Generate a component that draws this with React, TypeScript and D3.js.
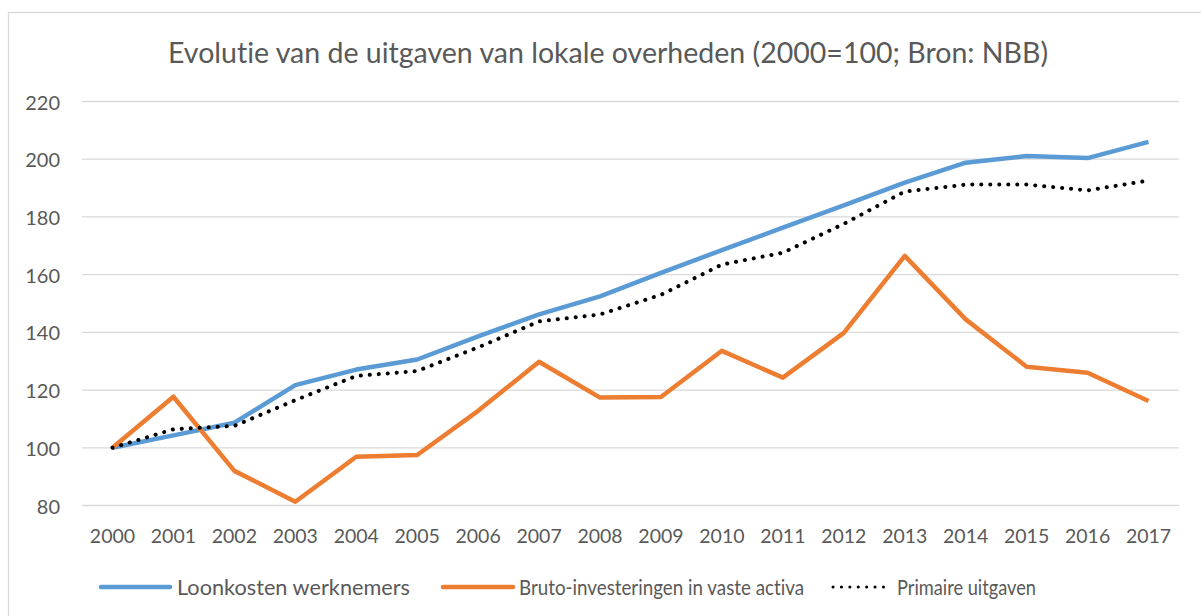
import React from "react";
import * as d3 from "d3";

const years = ["2000","2001","2002","2003","2004","2005","2006","2007","2008","2009","2010","2011","2012","2013","2014","2015","2016","2017"];
const loonkosten = [100,104.3,108.7,121.7,127.1,130.6,138.6,146.2,152.5,160.6,168.5,176.3,184.0,191.9,198.8,201.1,200.4,206.0];
const investeringen = [100,117.7,92.0,81.3,96.9,97.5,112.8,129.8,117.4,117.6,133.6,124.3,139.8,166.5,144.5,128.1,126.0,116.2];
const primaire = [100,106.4,107.6,116.5,124.9,126.6,134.8,143.8,146.2,153.0,163.5,167.6,177.6,188.8,191.2,191.2,189.2,192.6];
const yTicks = [80,100,120,140,160,180,200,220];
const title = "Evolutie van de uitgaven van lokale overheden (2000=100; Bron: NBB)";
const seriesNames = ["Loonkosten werknemers","Bruto-investeringen in vaste activa","Primaire uitgaven"];

const W = 1201, H = 616;
const FONT = "Lato, 'Open Sans', sans-serif";
const TXT = "#595959";

export default function App() {
  const x = d3.scaleBand<string>().domain(years).range([82, 1179]);
  const y = d3.scaleLinear().domain([80, 220]).range([505.5, 101.5]);
  const cx = (yr: string) => (x(yr) as number) + x.bandwidth() / 2;
  const line = (vals: number[]) =>
    d3.line<number>().x((_, i) => cx(years[i])).y(v => y(v))(vals) as string;

  const series = [
    { name: seriesNames[0], vals: loonkosten, color: "#5B9BD5", dash: undefined as string | undefined, w: 4.5, cap: "butt" },
    { name: seriesNames[1], vals: investeringen, color: "#ED7D31", dash: undefined, w: 4.5, cap: "butt" },
    { name: seriesNames[2], vals: primaire, color: "#000000", dash: "0.1 8.9", w: 4, cap: "round" },
  ];

  const legend = [
    { x1: 101, x2: 170, tx: 177, tw: 233 },
    { x1: 443, x2: 513, tx: 519, tw: 285 },
    { x1: 833, x2: 884, tx: 897, tw: 139 },
  ];

  return (
    <div style={{ position: "fixed", left: 0, top: 0 }}>
      <svg width={W} height={H} style={{ display: "block", background: "#fff", fontVariantLigatures: "none" }}>
        <rect x={8.5} y={12.5} width={W + 20} height={H + 20} fill="#fff" stroke="#d9d9d9" strokeWidth={1.3} />
        <text x={608} y={52} textAnchor="middle" dominantBaseline="central" fontFamily={FONT} fontSize={28.5}
          textLength={880} lengthAdjust="spacingAndGlyphs" fill={TXT}>{title}</text>
        {yTicks.map(t => (
          <g key={t}>
            <line x1={82} x2={1179} y1={y(t)} y2={y(t)} stroke="#d9d9d9" strokeWidth={1.3} />
            <text x={60} y={y(t)} textAnchor="end" dominantBaseline="central" fontFamily={FONT} fontSize={20} fill={TXT}>{t}</text>
          </g>
        ))}
        {years.map(yr => (
          <text key={yr} x={cx(yr)} y={535} textAnchor="middle" dominantBaseline="central" fontFamily={FONT} fontSize={19.5} fill={TXT}>{yr}</text>
        ))}
        {series.map(s => (
          <path key={s.name} d={line(s.vals)} fill="none" stroke={s.color} strokeWidth={s.w}
            strokeDasharray={s.dash} strokeLinecap={s.cap as any} strokeLinejoin="round" />
        ))}
        {series.map((s, i) => (
          <g key={"lg" + i}>
            <line x1={legend[i].x1} x2={legend[i].x2} y1={587} y2={587} stroke={s.color}
              strokeWidth={i === 2 ? 3 : 4.5} strokeDasharray={i === 2 ? "0.1 8.3" : undefined} strokeLinecap="round" />
            <text x={legend[i].tx} y={587} dominantBaseline="central" fontFamily={FONT} fontSize={20.5}
              textLength={legend[i].tw} lengthAdjust="spacingAndGlyphs" fill={TXT}>{s.name}</text>
          </g>
        ))}
      </svg>
    </div>
  );
}
